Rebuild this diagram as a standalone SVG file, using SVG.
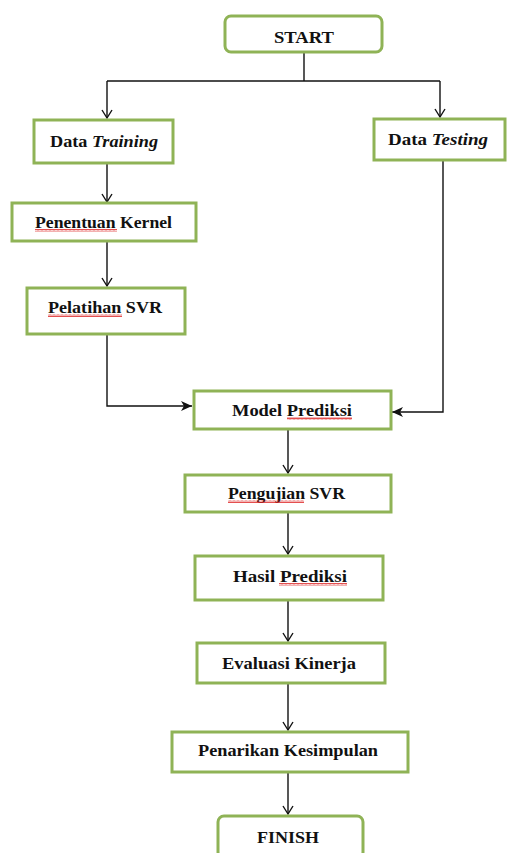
<svg xmlns="http://www.w3.org/2000/svg" width="508" height="853" viewBox="0 0 508 853">
<style>
.box{fill:#fff;stroke:#8fb356;stroke-width:3}
.t{font-family:"Liberation Serif","Times New Roman",serif;font-weight:bold;font-size:17px;fill:#111;text-anchor:start}
.c{fill:none;stroke:#111;stroke-width:1.4}
.sq{fill:url(#squig)}
</style>
<defs>
<marker id="open" markerWidth="12" markerHeight="12" refX="10" refY="6" orient="auto" markerUnits="userSpaceOnUse">
<path d="M2,1 L10,6 L2,11" fill="none" stroke="#111" stroke-width="1.4"/>
</marker>
<marker id="fill" markerWidth="12" markerHeight="10" refX="11" refY="5" orient="auto" markerUnits="userSpaceOnUse">
<path d="M0,0 L11,5 L0,10 L3,5 Z" fill="#111"/>
</marker>
<pattern id="squig" width="4" height="3" patternUnits="userSpaceOnUse">
<path d="M0,2.5 L1,0.5 L2,2.5 L3,0.5 L4,2.5" fill="none" stroke="#d22" stroke-width="0.8"/>
</pattern>
</defs>
<g id="connectors">
<path class="c" d="M304,53 V81"/>
<path class="c" d="M107,81 H440"/>
<path class="c" d="M107,81 V118" marker-end="url(#open)"/>
<path class="c" d="M440,81 V117" marker-end="url(#open)"/>
<path class="c" d="M107,164 V202" marker-end="url(#open)"/>
<path class="c" d="M107,242 V286" marker-end="url(#open)"/>
<path class="c" d="M107,335 V406 H192" marker-end="url(#fill)"/>
<path class="c" d="M443,161 V412 H392" marker-end="url(#fill)"/>
<path class="c" d="M288,430 V473" marker-end="url(#open)"/>
<path class="c" d="M288,513 V554" marker-end="url(#open)"/>
<path class="c" d="M288,601 V641" marker-end="url(#open)"/>
<path class="c" d="M288,684 V730" marker-end="url(#open)"/>
<path class="c" d="M288,773 V814" marker-end="url(#open)"/>
</g>
<g id="start">
<rect class="box" x="225" y="16" width="157" height="36" rx="6"/>
<text class="t" x="274" y="43" textLength="60" lengthAdjust="spacingAndGlyphs">START</text>
</g>
<g id="data-training">
<rect class="box" x="34" y="120" width="139" height="43"/>
<text class="t" x="50" y="147" textLength="108" lengthAdjust="spacingAndGlyphs">Data <tspan font-style="italic">Training</tspan></text>
</g>
<g id="data-testing">
<rect class="box" x="374" y="119" width="131" height="41"/>
<text class="t" x="388" y="145" textLength="100" lengthAdjust="spacingAndGlyphs">Data <tspan font-style="italic">Testing</tspan></text>
</g>
<g id="penentuan-kernel">
<rect class="box" x="12" y="203" width="184" height="38"/>
<text class="t" x="35" y="228" textLength="137" lengthAdjust="spacingAndGlyphs">Penentuan Kernel</text>
<rect class="sq" x="35" y="229" width="82" height="3"/>
</g>
<g id="pelatihan-svr">
<rect class="box" x="27" y="288" width="158" height="46"/>
<text class="t" x="48" y="313" textLength="114" lengthAdjust="spacingAndGlyphs">Pelatihan SVR</text>
<rect class="sq" x="48" y="314" width="74" height="3"/>
</g>
<g id="model-prediksi">
<rect class="box" x="194" y="391" width="197" height="38"/>
<text class="t" x="232" y="416" textLength="120" lengthAdjust="spacingAndGlyphs">Model Prediksi</text>
<rect class="sq" x="287" y="417" width="65" height="3"/>
</g>
<g id="pengujian-svr">
<rect class="box" x="185" y="475" width="206" height="37"/>
<text class="t" x="228" y="499" textLength="117" lengthAdjust="spacingAndGlyphs">Pengujian SVR</text>
<rect class="sq" x="228" y="500" width="76" height="3"/>
</g>
<g id="hasil-prediksi">
<rect class="box" x="195" y="556" width="188" height="44"/>
<text class="t" x="233" y="582" textLength="114" lengthAdjust="spacingAndGlyphs">Hasil Prediksi</text>
<rect class="sq" x="279" y="583" width="68" height="3"/>
</g>
<g id="evaluasi-kinerja">
<rect class="box" x="197" y="643" width="188" height="40"/>
<text class="t" x="222" y="669" textLength="134" lengthAdjust="spacingAndGlyphs">Evaluasi Kinerja</text>
</g>
<g id="penarikan-kesimpulan">
<rect class="box" x="172" y="732" width="236" height="40"/>
<text class="t" x="198" y="756" textLength="180" lengthAdjust="spacingAndGlyphs">Penarikan Kesimpulan</text>
</g>
<g id="finish">
<rect class="box" x="218" y="816" width="145" height="42" rx="6"/>
<text class="t" x="257" y="843" textLength="62" lengthAdjust="spacingAndGlyphs">FINISH</text>
</g>
</svg>
